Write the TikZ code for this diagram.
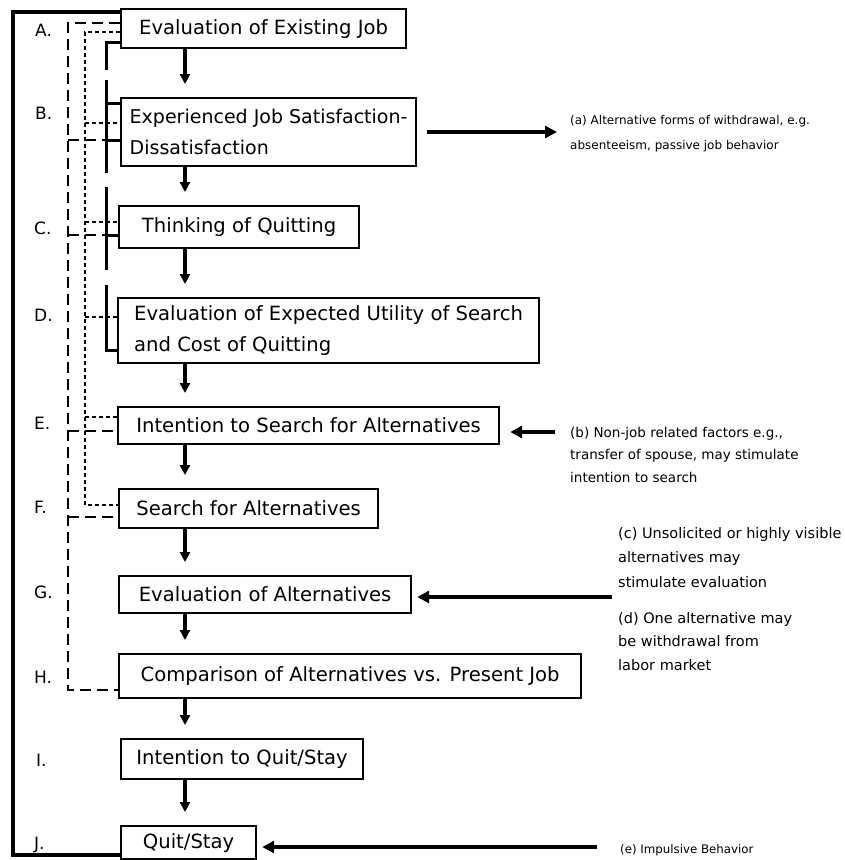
\documentclass[tikz,border=0pt]{standalone}
\usepackage{fontspec}
\setmainfont{DejaVu Sans}
\usetikzlibrary{arrows.meta,calc}
\begin{document}
\begin{tikzpicture}[x=1pt,y=-1pt,
  box/.style={draw,line width=2.2pt,anchor=north west,inner sep=0pt,
    font=\fontsize{19.6}{31}\selectfont,align=left},
  flow/.style={line width=3.2pt,-{Triangle[length=10pt,width=10pt]},shorten >=13pt},
  side/.style={line width=4pt,-{Triangle[length=12pt,width=12pt]}},
  lbl/.style={anchor=west,inner sep=0pt,font=\fontsize{17}{18}\selectfont},
  note/.style={anchor=base west,align=left,inner sep=0pt},
  outer/.style={line width=3.4pt},
  solidL/.style={line width=3pt},
  dashL/.style={line width=2.6pt,dash pattern=on 11pt off 6pt},
  dotL/.style={line width=2.6pt,dash pattern=on 4pt off 3pt}
]
\useasboundingbox (0,0) rectangle (845,860);

% boxes
\node[box,minimum width=285,minimum height=39] (A) at (120,8) {Evaluation of Existing Job};
\node[box,minimum width=295,minimum height=68,font=\fontsize{19}{31}\selectfont] (B) at (120,97) {Experienced Job Satisfaction-\\Dissatisfaction};
\node[box,minimum width=240,minimum height=42] (C) at (118,205) {Thinking of Quitting};
\node[box,minimum width=421,minimum height=65] (D) at (117,297) {Evaluation of Expected Utility of Search\\and Cost of Quitting};
\node[box,minimum width=381,minimum height=37] (E) at (117,406) {Intention to Search for Alternatives};
\node[box,minimum width=259,minimum height=39] (F) at (118,488) {Search for Alternatives};
\node[box,minimum width=292,minimum height=37] (G) at (118,575) {Evaluation of Alternatives};
\node[box,minimum width=462,minimum height=44] (H) at (118,653) {Comparison of Alternatives vs. Present Job};
\node[box,minimum width=242,minimum height=40] (I) at (120,738) {Intention to Quit/Stay};
\node[box,minimum width=135,minimum height=33] (J) at (120,825) {Quit/Stay};

% letters
\node[lbl] (lA) at (35,30) {A.};
\node[lbl] (lB) at (35,113) {B.};
\node[lbl] (lC) at (34,228) {C.};
\node[lbl] (lD) at (34,315) {D.};
\node[lbl] (lE) at (34,423) {E.};
\node[lbl] (lF) at (34,507) {F.};
\node[lbl] (lG) at (34,592) {G.};
\node[lbl] (lH) at (34,677) {H.};
\node[lbl] (lI) at (36,760) {I.};
\node[lbl] (lJ) at (34,845) {J.};

% main flow
\coordinate (ax) at (185,0);
\draw[flow] (A.south -| ax) -- (B.north -| ax);
\draw[flow] (B.south -| ax) -- (C.north -| ax);
\draw[flow] (C.south -| ax) -- (D.north -| ax);
\draw[flow] (D.south -| ax) -- (E.north -| ax);
\draw[flow] (E.south -| ax) -- (F.north -| ax);
\draw[flow] (F.south -| ax) -- (G.north -| ax);
\draw[flow] (G.south -| ax) -- (H.north -| ax);
\draw[flow] (H.south -| ax) -- (I.north -| ax);
\draw[flow] (I.south -| ax) -- (J.north -| ax);

% outer feedback
\draw[outer] ($(A.north west)+(0,4)$) -| (13,855) -- ($(J.north west)+(0,30)$);

% long dashed feedback
\draw[dashL] ($(A.north west)+(0,15)$) -| (68,690) -- ($(H.north west)+(0,37)$);
\draw[dashL] (68,140) -- ($(B.north west)+(0,43)$);
\draw[dashL] (68,235) -- ($(C.north west)+(0,30)$);
\draw[dashL] (68,431) -- ($(E.north west)+(0,25)$);
\draw[dashL] (68,517) -- ($(F.north west)+(0,29)$);

% dotted feedback
\draw[dotL] ($(A.north west)+(0,24)$) -| (85,505) -- ($(F.north west)+(0,17)$);
\draw[dotL] (85,123) -- ($(B.north west)+(0,26)$);
\draw[dotL] (85,222) -- ($(C.north west)+(0,17)$);
\draw[dotL] (85,317) -- ($(D.north west)+(0,20)$);
\draw[dotL] (85,417) -- ($(E.north west)+(0,11)$);

% solid brackets
\draw[solidL] ($(A.north west)+(0,34)$) -| (106,70);
\draw[solidL] (106,80) -- (106,173);
\draw[solidL] (106,103) -- ($(B.north west)+(0,6)$);
\draw[solidL] (106,140) -- ($(B.north west)+(0,43)$);
\draw[solidL] (106,187) -- (106,270);
\draw[solidL] (106,235) -- ($(C.north west)+(0,30)$);
\draw[solidL] (106,285) -- (106,350) -- ($(D.north west)+(0,53)$);

% side notes (base anchor = last line baseline)
\node[note,font=\fontsize{12}{25}\selectfont] (na) at (570,149) {(a) Alternative forms of withdrawal, e.g.\\absenteeism, passive job behavior};
\node[note,font=\fontsize{13.5}{22.5}\selectfont] (nb) at (570,482) {(b) Non-job related factors e.g.,\\transfer of spouse, may stimulate\\intention to search};
\node[note,font=\fontsize{14.5}{24.5}\selectfont] (nc) at (618,587) {(c) Unsolicited or highly visible\\alternatives may\\stimulate evaluation};
\node[note,font=\fontsize{14.5}{23.5}\selectfont] (nd) at (618,670) {(d) One alternative may\\be withdrawal from\\labor market};
\node[note,font=\fontsize{11.8}{12}\selectfont] (ne) at (620,853) {(e) Impulsive Behavior};

\coordinate (ea) at (557,132);
\coordinate (eb) at (555,432);
\coordinate (ec) at (612,597);
\coordinate (ee) at (597,847);
\draw[side] ($(B.east |- ea)+(10,0)$) -- (ea);
\draw[side] (eb) -- ($(E.east |- eb)+(10,0)$);
\draw[side] (ec) -- ($(G.east |- ec)+(5,0)$);
\draw[side] (ee) -- ($(J.east |- ee)+(5,0)$);
\end{tikzpicture}
\end{document}
